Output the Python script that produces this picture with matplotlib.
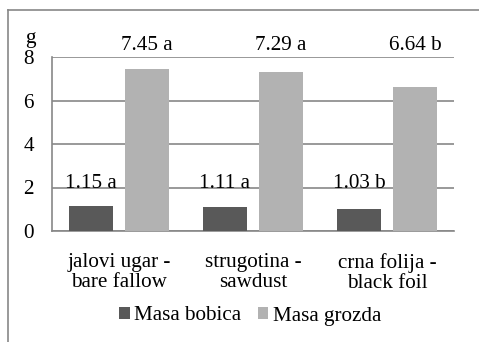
import matplotlib
matplotlib.use("Agg")
import matplotlib.pyplot as plt
import numpy as np
from matplotlib.lines import Line2D

plt.rcParams['font.family'] = ['Liberation Serif', 'DejaVu Serif']

categories = ["jalovi ugar -\nbare fallow", "strugotina -\nsawdust", "crna folija -\nblack foil"]
series_names = ["Masa bobica", "Masa grozda"]
masa_bobica = [1.15, 1.11, 1.03]
masa_grozda = [7.45, 7.29, 6.64]
bobica_letters = ["a", "a", "b"]
grozda_letters = ["a", "a", "b"]
yticks = [0, 2, 4, 6, 8]

W, H = 479, 342
fig = plt.figure(figsize=(W / 100, H / 100), dpi=100)
ax = fig.add_axes([52 / W, 1 - 231 / H, (454 - 52) / W, (231 - 57) / H])

x = np.arange(len(categories))
bw = 0.33
off = 0.21
dark = "#595959"
light = "#b2b2b2"
grid_c = "#878787"

ax.bar(x - off, masa_bobica, bw, color=dark, label=series_names[0], zorder=3)
ax.bar(x + off, masa_grozda, bw, color=light, label=series_names[1], zorder=3)

fs = 15.2
for xi, v, l in zip(x, masa_bobica, bobica_letters):
    ax.text(xi - off, 2.17, f"{v:.2f} {l}", ha="center", va="center", fontsize=fs, zorder=4)
for xi, v, l in zip(x, masa_grozda, grozda_letters):
    ax.text(xi + off, 8.52, f"{v:.2f} {l}", ha="center", va="center", fontsize=fs, zorder=4,
            clip_on=False)

ax.set_xlim(-0.5, len(categories) - 0.5)
ax.set_ylim(0, 8)
ax.set_yticks(yticks)
ax.set_yticklabels([str(t) for t in yticks], fontsize=fs)
ax.set_xticks(x)
ax.set_xticklabels(categories, fontsize=fs, linespacing=1.05)
ax.tick_params(axis="both", length=0)
ax.tick_params(axis="y", pad=13)
ax.tick_params(axis="x", pad=16)
ax.yaxis.grid(True, color=grid_c, linewidth=1.2, zorder=0)
for s in ["top", "right"]:
    ax.spines[s].set_visible(False)
for s in ["left", "bottom"]:
    ax.spines[s].set_color(grid_c)
    ax.spines[s].set_linewidth(1.2)

ax.text(-0.055, 1.105, "g", transform=ax.transAxes, fontsize=fs, ha="center", va="center")

leg = fig.legend(loc="center", bbox_to_anchor=(250 / W, 1 - 316 / H), ncol=2, frameon=False,
                 fontsize=fs, handlelength=0.5, handleheight=0.5, handletextpad=0.2,
                 columnspacing=0.8)

# outer chart frame
fig.add_artist(Line2D([8 / W, 8 / W], [0, 1 - 10 / H], transform=fig.transFigure,
                      color=grid_c, linewidth=1.2))
fig.add_artist(Line2D([8 / W, 1], [1 - 10 / H, 1 - 10 / H], transform=fig.transFigure,
                      color=grid_c, linewidth=1.2))

fig.savefig("out.png", dpi=100)
